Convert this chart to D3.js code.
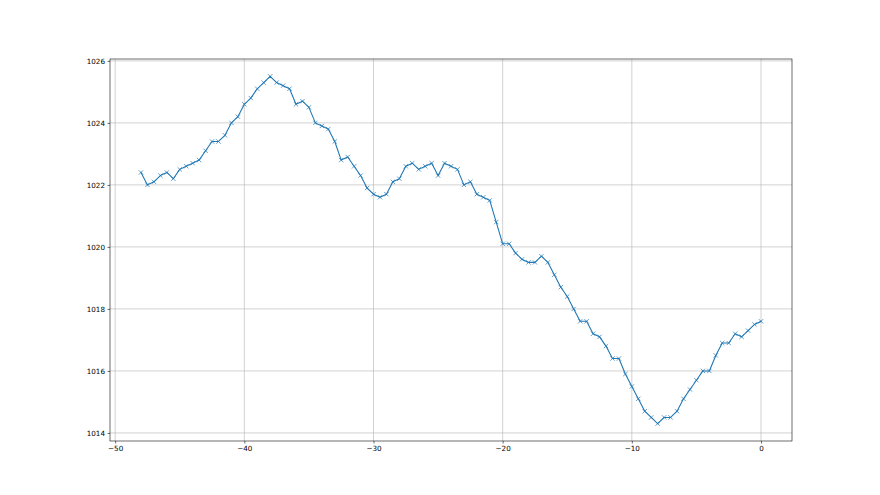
<!DOCTYPE html>
<html>
<head>
<meta charset="utf-8">
<script src="https://cdn.jsdelivr.net/npm/d3@7"></script>
<style>
  html, body { margin: 0; padding: 0; background: #fff; }
  svg { display: block; }
  text { font-family: "DejaVu Sans", sans-serif; }
</style>
</head>
<body>
<svg id="chart" width="880" height="495"></svg>
<script>
// x positions (hours)
const hours = [
  -48, -47.5, -47, -46.5, -46, -45.5, -45, -44.5, -44, -43.5,
  -43, -42.5, -42, -41.5, -41, -40.5, -40, -39.5, -39, -38.5,
  -38, -37.5, -37, -36.5, -36, -35.5, -35, -34.5, -34, -33.5,
  -33, -32.5, -32, -31.5, -31, -30.5, -30, -29.5, -29, -28.5,
  -28, -27.5, -27, -26.5, -26, -25.5, -25, -24.5, -24, -23.5,
  -23, -22.5, -22, -21.5, -21, -20.5, -20, -19.5, -19, -18.5,
  -18, -17.5, -17, -16.5, -16, -15.5, -15, -14.5, -14, -13.5,
  -13, -12.5, -12, -11.5, -11, -10.5, -10, -9.5, -9, -8.5,
  -8, -7.5, -7, -6.5, -6, -5.5, -5, -4.5, -4, -3.5,
  -3, -2.5, -2, -1.5, -1, -0.5, 0
];
// pressure values
const pressure = [
  1022.4, 1022.0, 1022.1, 1022.3, 1022.4, 1022.2, 1022.5, 1022.6, 1022.7, 1022.8,
  1023.1, 1023.4, 1023.4, 1023.6, 1024.0, 1024.2, 1024.6, 1024.8, 1025.1, 1025.3,
  1025.5, 1025.3, 1025.2, 1025.1, 1024.6, 1024.7, 1024.5, 1024.0, 1023.9, 1023.8,
  1023.4, 1022.8, 1022.9, 1022.6, 1022.3, 1021.9, 1021.7, 1021.6, 1021.7, 1022.1,
  1022.2, 1022.6, 1022.7, 1022.5, 1022.6, 1022.7, 1022.3, 1022.7, 1022.6, 1022.5,
  1022.0, 1022.1, 1021.7, 1021.6, 1021.5, 1020.8, 1020.1, 1020.1, 1019.8, 1019.6,
  1019.5, 1019.5, 1019.7, 1019.5, 1019.1, 1018.7, 1018.4, 1018.0, 1017.6, 1017.6,
  1017.2, 1017.1, 1016.8, 1016.4, 1016.4, 1015.9, 1015.5, 1015.1, 1014.7, 1014.5,
  1014.3, 1014.5, 1014.5, 1014.7, 1015.1, 1015.4, 1015.7, 1016.0, 1016.0, 1016.5,
  1016.9, 1016.9, 1017.2, 1017.1, 1017.3, 1017.5, 1017.6
];
const xTicks = [-50, -40, -30, -20, -10, 0];
const yTicks = [1014, 1016, 1018, 1020, 1022, 1024, 1026];

(function () {
  const data = hours.map((h, i) => ({ x: h, y: pressure[i] }));

  const svg = d3.select("#chart");
  const pL = 110, pR = 792, pT = 59, pB = 441;
  const k = 0.72; // pt -> px

  function padded(ext) {
    const m = (ext[1] - ext[0]) * 0.05;
    return [ext[0] - m, ext[1] + m];
  }
  const x = d3.scaleLinear().domain(padded(d3.extent(hours))).range([pL, pR]);
  const y = d3.scaleLinear().domain(padded(d3.extent(pressure))).range([pB, pT]);

  // grid
  const grid = svg.append("g");
  grid.selectAll("line.gx").data(xTicks).join("line").attr("class", "gx")
    .attr("x1", d => x(d)).attr("x2", d => x(d))
    .attr("y1", pT).attr("y2", pB)
    .attr("stroke", "#b0b0b0").attr("stroke-width", 0.8 * k);
  grid.selectAll("line.gy").data(yTicks).join("line").attr("class", "gy")
    .attr("x1", pL).attr("x2", pR)
    .attr("y1", d => y(d)).attr("y2", d => y(d))
    .attr("stroke", "#b0b0b0").attr("stroke-width", 0.8 * k);

  // line
  const line = d3.line().x(d => x(d.x)).y(d => y(d.y));
  svg.append("path").datum(data)
    .attr("d", line)
    .attr("fill", "none")
    .attr("stroke", "#1f77b4")
    .attr("stroke-width", 1.5 * k)
    .attr("stroke-linejoin", "round")
    .attr("stroke-linecap", "square");

  // x markers
  const ms = 3 * k;
  const mk = svg.append("g").attr("stroke", "#1f77b4").attr("stroke-width", 1 * k).attr("fill", "none");
  mk.selectAll("path").data(data).join("path")
    .attr("d", d => {
      const cx = x(d.x), cy = y(d.y);
      return `M${cx - ms},${cy - ms}L${cx + ms},${cy + ms}M${cx - ms},${cy + ms}L${cx + ms},${cy - ms}`;
    });

  // spines
  svg.append("rect")
    .attr("x", pL).attr("y", pT)
    .attr("width", pR - pL).attr("height", pB - pT)
    .attr("fill", "none").attr("stroke", "#000").attr("stroke-width", 0.8 * k);

  const fmt = d => d3.format("d")(d).replace("-", "\u2212");

  // axes
  const xAxis = d3.axisBottom(x).tickValues(xTicks).tickSize(3.5 * k).tickPadding(3.5 * k).tickFormat(fmt);
  const gx = svg.append("g").attr("transform", `translate(0,${pB})`).call(xAxis);
  gx.select(".domain").remove();
  gx.selectAll(".tick line").attr("stroke", "#000").attr("stroke-width", 0.8 * k);
  gx.selectAll(".tick text").attr("fill", "#000").attr("font-size", 10 * k).attr("font-family", "DejaVu Sans");

  const yAxis = d3.axisLeft(y).tickValues(yTicks).tickSize(3.5 * k).tickPadding(3.5 * k).tickFormat(fmt);
  const gy = svg.append("g").attr("transform", `translate(${pL},0)`).call(yAxis);
  gy.select(".domain").remove();
  gy.selectAll(".tick line").attr("stroke", "#000").attr("stroke-width", 0.8 * k);
  gy.selectAll(".tick text").attr("fill", "#000").attr("font-size", 10 * k).attr("font-family", "DejaVu Sans");
})();
</script>
</body>
</html>
